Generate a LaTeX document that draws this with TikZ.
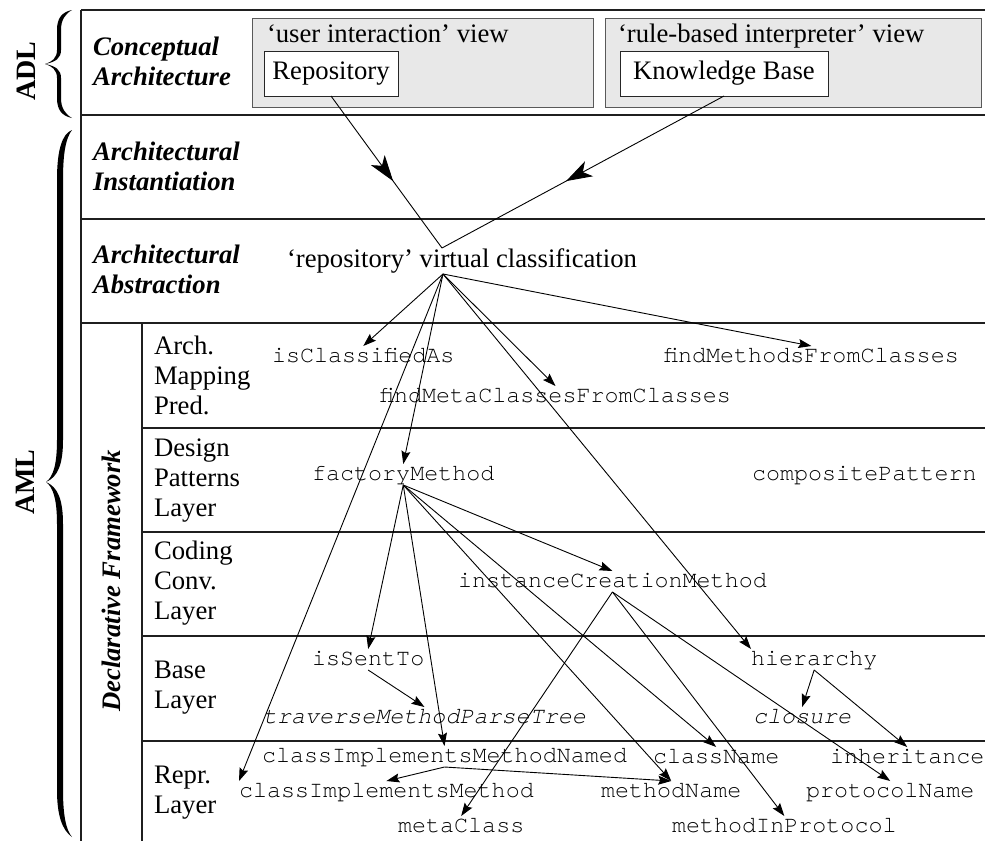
\documentclass[tikz,border=0pt]{standalone}
\usepackage{fontspec}
\setmainfont{Liberation Serif}
\newfontfamily\monofont{TeX Gyre Cursor}
\usetikzlibrary{arrows.meta,decorations.markings}

% left-aligned stack of lines whose baseline is the first line
\newcommand\linestack[1]{\begin{tabular}[t]{@{}l@{}}#1\end{tabular}}

\begin{document}
\begin{tikzpicture}[x=1pt,y=-1pt,
  every node/.style={inner sep=0pt, outer sep=0pt},
  rowlabel/.style={anchor=base west, font=\fontsize{26.7}{30}\selectfont\bfseries\itshape},
  sublabel/.style={anchor=base west, font=\fontsize{26.7}{30}\selectfont},
  sidelabel/.style={rotate=90, font=\fontsize{28}{30}\selectfont\bfseries},
  code/.style={anchor=base west, font=\fontsize{23.4}{26}\selectfont\monofont, text height=16pt, text depth=5pt},
  codeit/.style={code, font=\fontsize{23.4}{26}\selectfont\monofont\itshape},
  frameline/.style={line width=1.8pt, draw=black!88},
  viewbox/.style={fill=gray!18, draw=black!65, line width=1pt},
  whitebox/.style={draw=black!85, fill=white, line width=1pt, minimum height=45pt,
    font=\fontsize{26.7}{30}\selectfont},
  link/.style={line width=0.9pt, -{Stealth[length=13pt,width=9pt,inset=2pt]}},
  midarrow/.style={line width=0.9pt, postaction={decorate},
    decoration={markings, mark=at position 0.56 with {\arrow{Stealth[length=26pt,width=17pt,inset=7pt]}}}},
  bracefill/.style={fill=black}
]
\useasboundingbox (0,0) rectangle (985,841);

% views of the conceptual architecture
\draw[viewbox] (252,18) rectangle (593,107);
\draw[viewbox] (605,18) rectangle (981,107);

% layer frame
\draw[frameline] (81,10) -- (985,10);
\draw[frameline] (81,10) -- (81,841);
\draw[frameline] (81,115) -- (985,115);
\draw[frameline] (81,219) -- (985,219);
\draw[frameline] (81,323) -- (985,323);
\draw[frameline] (142,323) -- (142,841);
\foreach \yy in {428,532,636,741} \draw[frameline] (142,\yy) -- (985,\yy);

% curly braces
\fill[bracefill] (72,10) .. controls (62,12) and (57,18) .. (57,30) -- (57,50)
  .. controls (57,58) and (52,62) .. (45,64) .. controls (52,66) and (57,70) .. (57,78)
  -- (57,98) .. controls (57,110) and (62,116) .. (72,118)
  .. controls (65,114) and (61,108) .. (61,98) -- (61,78)
  .. controls (61,70) and (56,66) .. (45,64) .. controls (56,62) and (61,58) .. (61,50)
  -- (61,30) .. controls (61,20) and (65,14) .. (72,10) -- cycle;
\fill[bracefill] (72,130) .. controls (62,134) and (57,150) .. (57,180) -- (57,440)
  .. controls (57,465) and (53,477) .. (46,482) .. controls (53,487) and (57,499) .. (57,524)
  -- (57,790) .. controls (57,815) and (62,830) .. (72,837)
  .. controls (66,830) and (63,815) .. (63,790) -- (63,524)
  .. controls (63,500) and (58,487) .. (46,482) .. controls (58,477) and (63,464) .. (63,440)
  -- (63,180) .. controls (63,152) and (66,138) .. (72,130) -- cycle;

\node[sidelabel] (adl) at (26,71) {ADL};
\node[sidelabel] (aml) at (25,482) {AML};
\node[sidelabel, font=\fontsize{26.7}{30}\selectfont\bfseries\itshape] (decl) at (111,581) {Declarative Framework};

% layer names
\node[rowlabel] (ca) at (93,55) {\linestack{Conceptual\\Architecture}};
\node[rowlabel] (ai) at (93,160) {\linestack{Architectural\\Instantiation}};
\node[rowlabel] (aa) at (93,263) {\linestack{Architectural\\Abstraction}};
\node[sublabel] (amp) at (154,354) {\linestack{Arch.\\Mapping\\Pred.}};
\node[sublabel] (dpl) at (154,456) {\linestack{Design\\Patterns\\Layer}};
\node[sublabel] (ccl) at (154,559) {\linestack{Coding\\Conv.\\Layer}};
\node[sublabel] (bl) at (154,678) {\linestack{Base\\Layer}};
\node[sublabel] (rl) at (154,783) {\linestack{Repr.\\Layer}};

% conceptual architecture
\node[sublabel] (uiv) at (267,42) {‘user interaction’ view};
\node[sublabel] (rbv) at (618,42) {‘rule-based interpreter’ view};
\node[whitebox, minimum width=134pt] (repo) at (331,73.5) {Repository};
\node[whitebox, minimum width=208pt] (kb) at (724,73.5) {Knowledge Base};

% abstraction
\node[sublabel, text height=19pt, text depth=7pt] (rvc) at (287,267) {‘repository’ virtual classification};
\coordinate (rvtop) at ([xshift=-20pt]rvc.north);
\coordinate (rvbot) at ([xshift=-19pt]rvc.south);

% predicates
\node[code] (ica) at (272,362) {isClassifiedAs};
\node[code] (fmfc) at (664,362) {findMethodsFromClasses};
\node[code] (fmcc) at (380,402) {findMetaClassesFromClasses};
\node[code] (fm) at (312,480) {factoryMethod};
\node[code] (cp) at (752,480) {compositePattern};
\node[code] (icm) at (458,587) {instanceCreationMethod};
\node[code] (ist) at (312,665) {isSentTo};
\node[code] (hier) at (751,665) {hierarchy};
\node[codeit] (tmpt) at (263,723) {traverseMethodParseTree};
\node[codeit] (clo) at (753,723) {closure};
\node[code] (cimn) at (262,762) {classImplementsMethodNamed};
\node[code] (cn) at (653,763) {className};
\node[code] (inh) at (830,763) {inheritance};
\node[code] (cim) at (239,797) {classImplementsMethod};
\node[code] (mn) at (601,797) {methodName};
\node[code] (pn) at (806,797) {protocolName};
\node[code] (mc) at (398,832) {metaClass};
\node[code] (mip) at (672,832) {methodInProtocol};

% instantiation
\draw[midarrow] (repo.south) -- (rvtop);
\draw[midarrow] (kb.south) -- (rvtop);

% dependencies
\draw[link] (rvbot) -- (ica.north);
\draw[link] (rvbot) -- (fmcc.north);
\draw[link] (rvbot) -- (fmfc.north);
\draw[link] (rvbot) -- (fm.north);
\draw[link] (rvbot) -- (cim.north west);
\draw[link] (rvbot) -- (hier.north west);

\draw[link] (fm.south) -- (icm.north);
\draw[link] (fm.south) -- (ist.north);
\draw[link] (fm.south) -- (cimn.north);
\draw[link] (fm.south) -- (mn.north);
\draw[link] (fm.south) -- (cn.north);

\draw[link] (ist.south) -- (tmpt.north);

\draw[link] (icm.south) -- (mc.north);
\draw[link] (icm.south) -- (mip.north);
\draw[link] (icm.south) -- (pn.north);

\draw[link] (hier.south) -- (clo.north);
\draw[link] (hier.south) -- (inh.north);

\draw[link] (cimn.south) -- (cim.north);
\draw[link] (cimn.south) -- (mn.north);
\end{tikzpicture}
\end{document}
